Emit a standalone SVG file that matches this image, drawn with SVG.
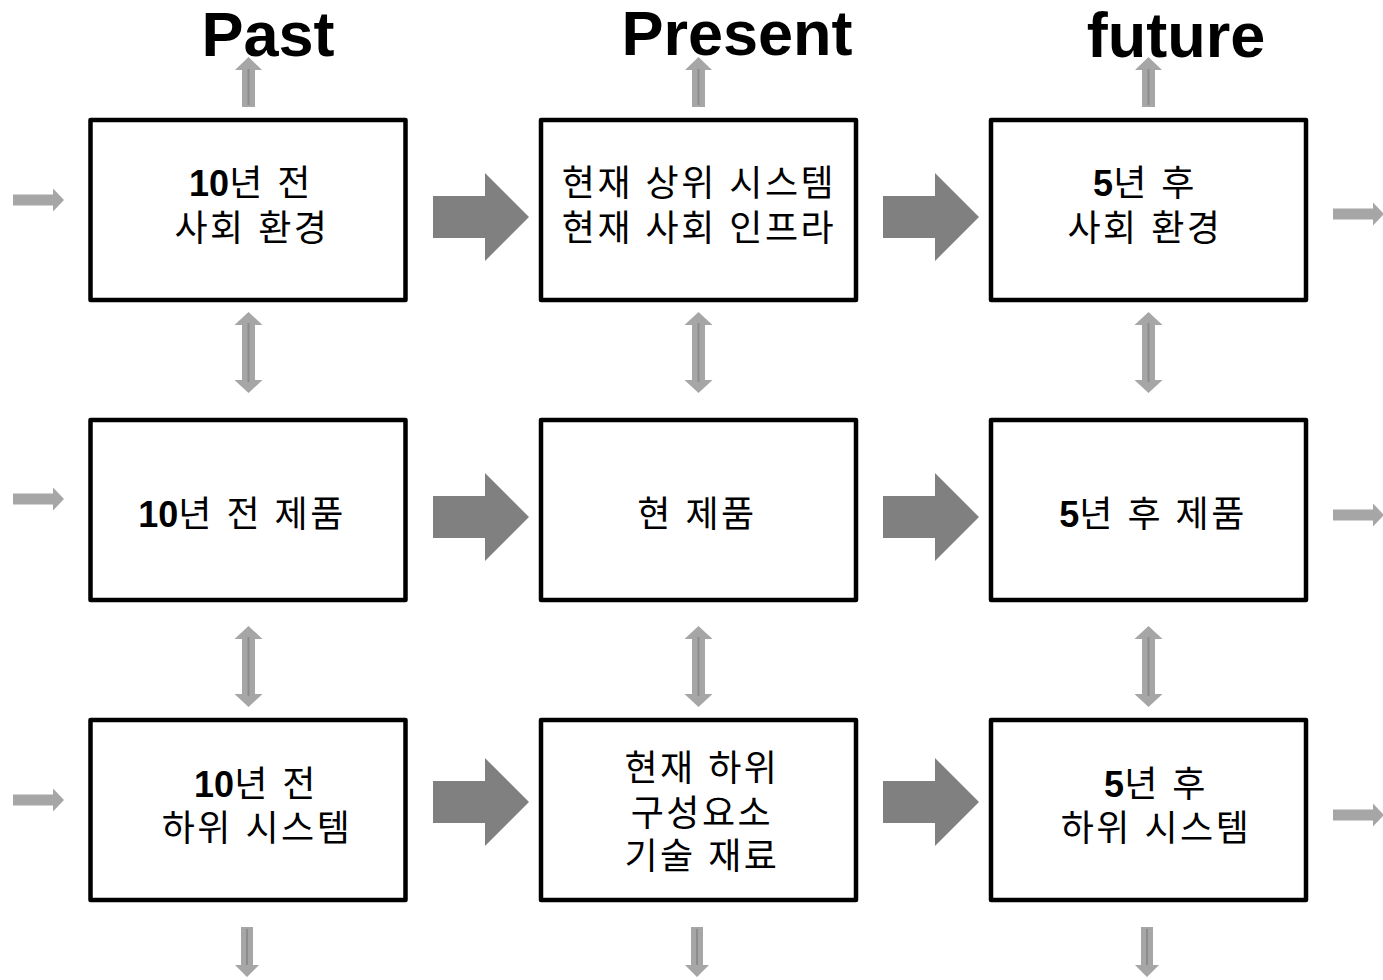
<svg xmlns="http://www.w3.org/2000/svg" xmlns:xlink="http://www.w3.org/1999/xlink" width="1383" height="980" viewBox="0 0 1383 980">
<style>
.box{fill:#fff;stroke:#000;stroke-width:4.5;stroke-linejoin:round}
.lbl{font-family:"Liberation Sans","Noto Sans CJK KR",sans-serif;font-size:36px;letter-spacing:2.5px;text-anchor:middle;fill:#000}
.num{font-weight:bold;letter-spacing:0}
.title{font-family:"Liberation Sans",Arial,sans-serif;font-weight:bold;font-size:63px;text-anchor:middle;fill:#000}
.big{fill:#808080}
.sm{fill:#a6a6a6}
.cl{stroke:#8c8c8c;stroke-width:2;fill:none}
</style>
<defs>
<path id="bigArrow" d="M0,-21 H52 V-44 L96,0 L52,44 V21 H0 Z"/>
<path id="hArrow" d="M0,-5.5 H40 V-11.5 L51,0 L40,11.5 V5.5 H0 Z"/>
<g id="upArrow"><path class="sm" d="M0,0 L13.5,13 H6.5 V50 H-6.5 V13 H-13.5 Z"/><line class="cl" x1="0" y1="12" x2="0" y2="48"/></g>
<g id="downArrow"><path class="sm" d="M0,0 L-12,-12 H-6 V-50 H6 V-12 H12 Z"/><line class="cl" x1="0" y1="-12" x2="0" y2="-48"/></g>
<g id="dblArrow"><path class="sm" d="M0,0 L14,13 H6.5 V68 H14 L0,81 L-14,68 H-6.5 V13 H-14 Z"/><line class="cl" x1="0" y1="11" x2="0" y2="70"/></g>
</defs>
<rect width="1383" height="980" fill="#fff"/>
<g id="titles">
<text class="title" x="268" y="56">Past</text>
<text class="title" x="737" y="55">Present</text>
<text class="title" x="1176" y="57">future</text>
</g>
<g id="connectors">
<use xlink:href="#bigArrow" class="big" x="433" y="217"/>
<use xlink:href="#bigArrow" class="big" x="883" y="217"/>
<use xlink:href="#bigArrow" class="big" x="433" y="517"/>
<use xlink:href="#bigArrow" class="big" x="883" y="517"/>
<use xlink:href="#bigArrow" class="big" x="433" y="802"/>
<use xlink:href="#bigArrow" class="big" x="883" y="802"/>
<use xlink:href="#hArrow" class="sm" x="13" y="200"/>
<use xlink:href="#hArrow" class="sm" x="13" y="499"/>
<use xlink:href="#hArrow" class="sm" x="13" y="800"/>
<use xlink:href="#hArrow" class="sm" x="1333" y="214"/>
<use xlink:href="#hArrow" class="sm" x="1333" y="515"/>
<use xlink:href="#hArrow" class="sm" x="1333" y="815"/>
<use xlink:href="#upArrow" x="248.5" y="57"/>
<use xlink:href="#upArrow" x="698.5" y="57"/>
<use xlink:href="#upArrow" x="1148.5" y="57"/>
<use xlink:href="#dblArrow" x="248.5" y="312"/>
<use xlink:href="#dblArrow" x="698.5" y="312"/>
<use xlink:href="#dblArrow" x="1148.5" y="312"/>
<use xlink:href="#dblArrow" x="248.5" y="626"/>
<use xlink:href="#dblArrow" x="698.5" y="626"/>
<use xlink:href="#dblArrow" x="1148.5" y="626"/>
<use xlink:href="#downArrow" x="247" y="977"/>
<use xlink:href="#downArrow" x="697" y="977"/>
<use xlink:href="#downArrow" x="1147" y="977"/>
</g>
<g id="past-env">
<rect class="box" x="90.5" y="120" width="315" height="180"/>
<text class="lbl" x="251" y="196"><tspan class="num">10</tspan>년 전</text>
<text class="lbl" x="252" y="241">사회 환경</text>
</g>
<g id="present-env">
<rect class="box" x="541" y="120" width="315" height="180"/>
<text class="lbl" x="699" y="196">현재 상위 시스템</text>
<text class="lbl" x="699" y="241">현재 사회 인프라</text>
</g>
<g id="future-env">
<rect class="box" x="991" y="120" width="315" height="180"/>
<text class="lbl" x="1145" y="196"><tspan class="num">5</tspan>년 후</text>
<text class="lbl" x="1145" y="241">사회 환경</text>
</g>
<g id="past-product">
<rect class="box" x="90.5" y="420" width="315" height="180"/>
<text class="lbl" x="242" y="527"><tspan class="num">10</tspan>년 전 제품</text>
</g>
<g id="present-product">
<rect class="box" x="541" y="420" width="315" height="180"/>
<text class="lbl" x="697" y="527">현 제품</text>
</g>
<g id="future-product">
<rect class="box" x="991" y="420" width="315" height="180"/>
<text class="lbl" x="1153" y="527"><tspan class="num">5</tspan>년 후 제품</text>
</g>
<g id="past-sub">
<rect class="box" x="90.5" y="720" width="315" height="180"/>
<text class="lbl" x="256" y="797"><tspan class="num">10</tspan>년 전</text>
<text class="lbl" x="257" y="841">하위 시스템</text>
</g>
<g id="present-sub">
<rect class="box" x="541" y="720" width="315" height="180"/>
<text class="lbl" x="702" y="781">현재 하위</text>
<text class="lbl" x="702" y="826">구성요소</text>
<text class="lbl" x="702" y="869">기술 재료</text>
</g>
<g id="future-sub">
<rect class="box" x="991" y="720" width="315" height="180"/>
<text class="lbl" x="1156" y="797"><tspan class="num">5</tspan>년 후</text>
<text class="lbl" x="1156" y="841">하위 시스템</text>
</g>
</svg>
